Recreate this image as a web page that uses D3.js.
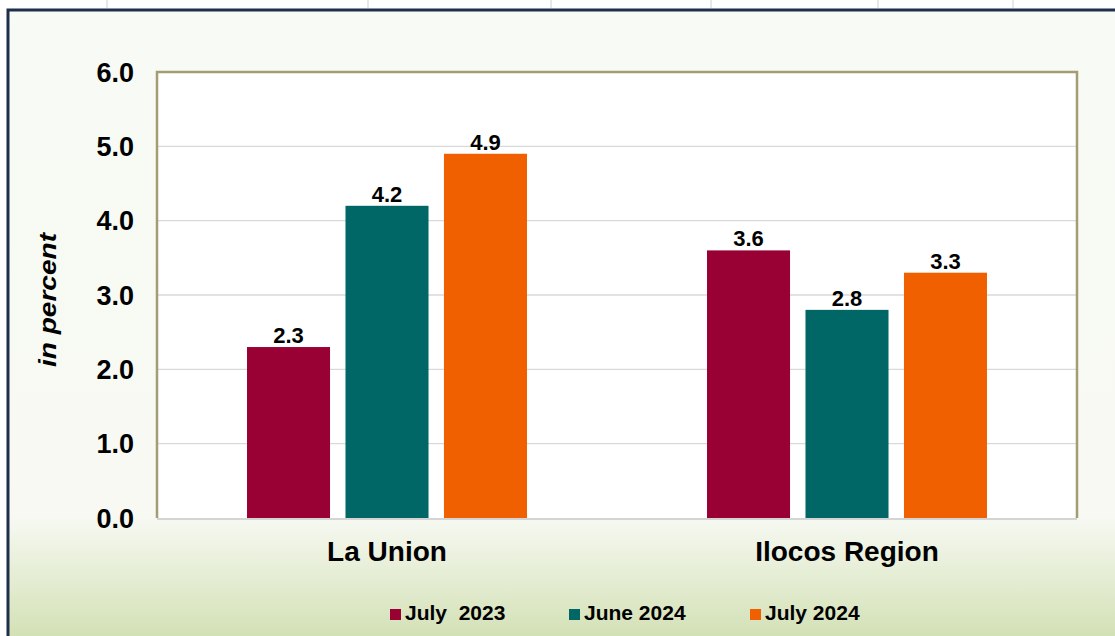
<!DOCTYPE html>
<meta charset="utf-8">
<style>
  body { margin: 0; background: #fff; }
  svg { display: block; font-family: Arial, "Liberation Sans", sans-serif; }
</style>
<script src="https://d3js.org/d3.v7.min.js"></script>
<body>
<div id="chart"></div>
<script>

var categories = ["La Union", "Ilocos Region"];
var seriesNames = ["July  2023", "June 2024", "July 2024"];
var july2023 = [2.3, 3.6];
var june2024 = [4.2, 2.8];
var july2024 = [4.9, 3.3];
var yTicks = [0, 1, 2, 3, 4, 5, 6];
var topTicks = [107, 368, 551, 711, 878, 1013];

var colors = ["#990033", "#006666", "#f06000"];
var series = [july2023, june2024, july2024];

var width = 1115,
    height = 636;

var plot = { left: 157, right: 1077, top: 72, bottom: 518 };

var svg = d3.select("#chart")
  .append("svg")
    .attr("width", width)
    .attr("height", height);

var defs = svg.append("defs");
var grad = defs.append("linearGradient")
    .attr("id", "bg")
    .attr("gradientUnits", "userSpaceOnUse")
    .attr("x1", 0).attr("y1", 10).attr("x2", 0).attr("y2", 636);
grad.append("stop").attr("offset", "0").attr("stop-color", "#f8faf5");
grad.append("stop").attr("offset", "0.81").attr("stop-color", "#f7f9f2");
grad.append("stop").attr("offset", "1").attr("stop-color", "#d3e1b6");

// small marks above the frame
svg.selectAll(".topTick")
  .data(topTicks)
  .enter().append("line")
    .attr("x1", d => d).attr("x2", d => d)
    .attr("y1", 0).attr("y2", 8)
    .attr("stroke", "#d0d0d0");

// frame
svg.append("rect")
    .attr("x", 8).attr("y", 10)
    .attr("width", width + 10).attr("height", height)
    .attr("fill", "url(#bg)")
    .attr("stroke", "#1e2f4c")
    .attr("stroke-width", 3);

var x0 = d3.scaleBand()
    .domain(categories)
    .range([plot.left, plot.right]);

var x1 = d3.scaleBand()
    .domain(d3.range(series.length))
    .range([0, x0.bandwidth()])
    .paddingInner(0.157)
    .paddingOuter(0.914);

var y = d3.scaleLinear()
    .domain([0, 6])
    .range([plot.bottom, plot.top]);

// plot background
svg.append("rect")
    .attr("x", plot.left).attr("y", plot.top)
    .attr("width", plot.right - plot.left)
    .attr("height", plot.bottom - plot.top)
    .attr("fill", "#fff");

// gridlines
svg.selectAll(".grid")
  .data(yTicks.slice(1, -1))
  .enter().append("line")
    .attr("x1", plot.left).attr("x2", plot.right)
    .attr("y1", d => y(d)).attr("y2", d => y(d))
    .attr("stroke", "#d9d9d9")
    .attr("stroke-width", 1.3);

svg.append("line")
    .attr("x1", plot.left).attr("x2", plot.right)
    .attr("y1", plot.bottom + 1).attr("y2", plot.bottom + 1)
    .attr("stroke", "#d4d4d4")
    .attr("stroke-width", 2);

// plot border (top, left, right)
svg.append("path")
    .attr("d", "M" + plot.left + "," + plot.bottom + "V" + plot.top + "H" + plot.right + "V" + plot.bottom)
    .attr("fill", "none")
    .attr("stroke", "#a39d74")
    .attr("stroke-width", 2.5);

// y axis labels
svg.selectAll(".ytick")
  .data(yTicks)
  .enter().append("text")
    .attr("x", 134)
    .attr("y", d => y(d))
    .attr("dy", "0.36em")
    .attr("text-anchor", "end")
    .attr("font-size", "27px")
    .attr("font-weight", "bold")
    .attr("fill", "#000")
    .text(d => d.toFixed(1));

svg.append("text")
    .attr("transform", "translate(56,300) rotate(-90)")
    .attr("text-anchor", "middle")
    .attr("font-size", "23px")
    .attr("font-weight", "bold")
    .attr("font-style", "italic")
    .attr("textLength", 134)
    .attr("lengthAdjust", "spacingAndGlyphs")
    .text("in percent");

// bars
var groups = svg.selectAll(".group")
  .data(categories)
  .enter().append("g")
    .attr("transform", d => "translate(" + x0(d) + ",0)");

groups.selectAll("rect")
  .data((d, i) => series.map((s, j) => ({ s: j, v: s[i] })))
  .enter().append("rect")
    .attr("x", d => x1(d.s))
    .attr("y", d => y(d.v))
    .attr("width", x1.bandwidth())
    .attr("height", d => plot.bottom - y(d.v))
    .attr("fill", d => colors[d.s]);

groups.selectAll(".val")
  .data((d, i) => series.map((s, j) => ({ s: j, v: s[i] })))
  .enter().append("text")
    .attr("x", d => x1(d.s) + x1.bandwidth() / 2)
    .attr("y", d => y(d.v) - 4)
    .attr("text-anchor", "middle")
    .attr("font-size", "22px")
    .attr("font-weight", "bold")
    .text(d => d.v.toFixed(1));

// category labels
svg.selectAll(".cat")
  .data(categories)
  .enter().append("text")
    .attr("x", d => x0(d) + x0.bandwidth() / 2)
    .attr("y", 561)
    .attr("text-anchor", "middle")
    .attr("font-size", "28px")
    .attr("font-weight", "bold")
    .text(d => d);

// legend
var legendX = [390, 569, 750];
var legend = svg.selectAll(".leg")
  .data(seriesNames)
  .enter().append("g")
    .attr("transform", (d, i) => "translate(" + legendX[i] + ",609)");

legend.append("rect")
    .attr("width", 11).attr("height", 11)
    .attr("fill", (d, i) => colors[i]);

legend.append("text")
    .attr("x", 15)
    .attr("y", 11)
    .attr("font-size", "21px")
    .attr("font-weight", "bold")
    .style("white-space", "pre")
    .text(d => d);

</script>
</body>
